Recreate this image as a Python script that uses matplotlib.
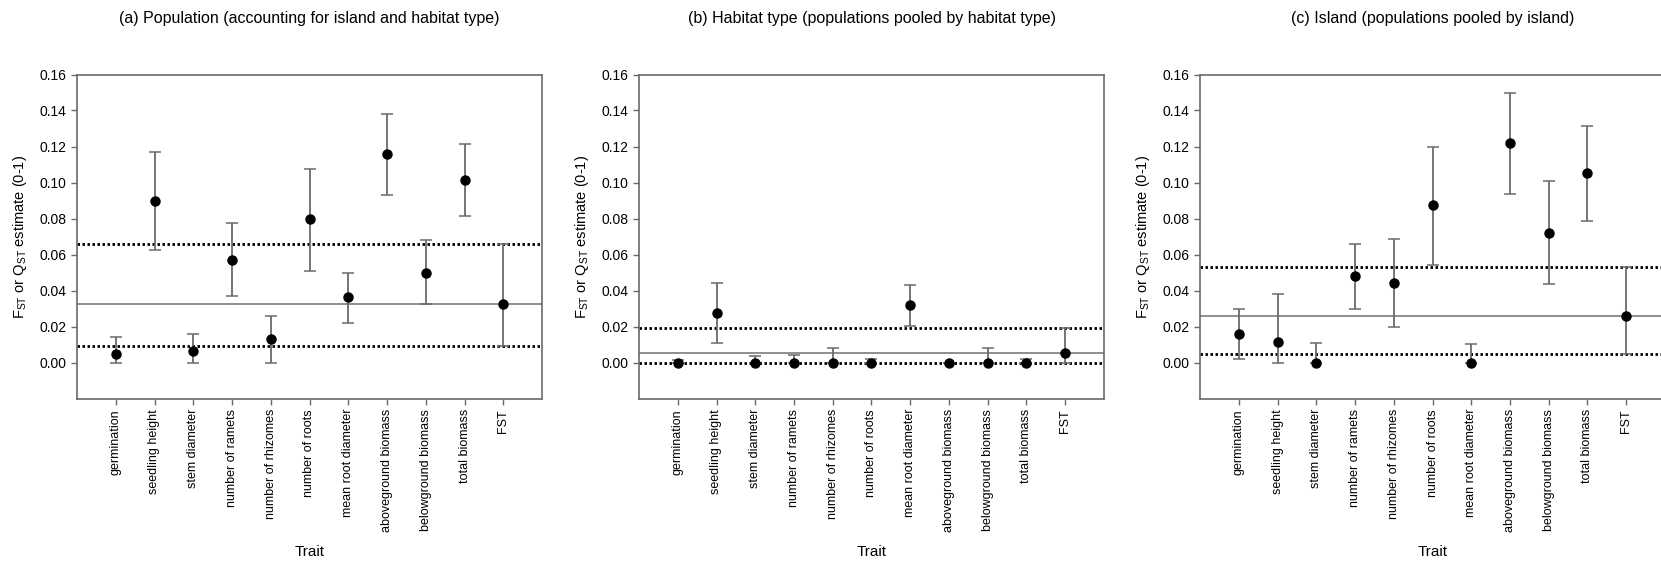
import numpy as np
import matplotlib.pyplot as plt

plt.rcParams['font.family'] = ['Liberation Sans', 'DejaVu Sans']
plt.rcParams['mathtext.fontset'] = 'custom'
plt.rcParams['mathtext.rm'] = 'Liberation Sans'
plt.rcParams['mathtext.it'] = 'Liberation Sans'

traits = ['germination', 'seedling height', 'stem diameter', 'number of ramets',
          'number of rhizomes', 'number of roots', 'mean root diameter',
          'aboveground biomass', 'belowground biomass', 'total biomass', 'FST']

titles = ['(a) Population (accounting for island and habitat type)',
          '(b) Habitat type (populations pooled by habitat type)',
          '(c) Island (populations pooled by island)']

# estimate, lower and upper CI (last entry = FST, used for reference lines)
est_a = [0.0047, 0.0900, 0.0065, 0.0570, 0.0128, 0.0795, 0.0362, 0.1160, 0.0500, 0.1015, 0.0325]
lo_a = [0.0000, 0.0627, 0.0000, 0.0372, 0.0000, 0.0510, 0.0218, 0.0932, 0.0325, 0.0815, 0.0090]
hi_a = [0.0143, 0.1168, 0.0160, 0.0773, 0.0258, 0.1077, 0.0497, 0.1382, 0.0683, 0.1215, 0.0660]

est_b = [0.0000, 0.0277, 0.0000, 0.0000, 0.0000, 0.0000, 0.0318, 0.0000, 0.0000, 0.0000, 0.0054]
lo_b = [0.0000, 0.0110, 0.0000, 0.0000, 0.0000, 0.0000, 0.0202, 0.0000, 0.0000, 0.0000, 0.0000]
hi_b = [0.0016, 0.0440, 0.0037, 0.0040, 0.0083, 0.0017, 0.0432, 0.0000, 0.0078, 0.0022, 0.0192]

est_c = [0.0158, 0.0114, 0.0000, 0.0480, 0.0441, 0.0873, 0.0000, 0.1220, 0.0720, 0.1052, 0.0260]
lo_c = [0.0017, 0.0000, 0.0000, 0.0296, 0.0196, 0.0544, 0.0000, 0.0937, 0.0434, 0.0787, 0.0046]
hi_c = [0.0295, 0.0382, 0.0106, 0.0659, 0.0685, 0.1198, 0.0105, 0.1497, 0.1008, 0.1312, 0.0530]

panels = [(est_a, lo_a, hi_a), (est_b, lo_b, hi_b), (est_c, lo_c, hi_c)]
lefts = [77, 639, 1200]

W, H = 1661, 565
fig = plt.figure(figsize=(W / 100, H / 100), dpi=100)

grey = '#6a6a6a'
x = np.arange(1, len(traits) + 1)
yt = np.arange(0, 0.161, 0.02)

for i, (est, lo, hi) in enumerate(panels):
    ax = fig.add_axes([lefts[i] / W, 1 - 398.5 / H, 465 / W, 324 / H])
    est = np.array(est)
    lo = np.array(lo)
    hi = np.array(hi)

    # reference lines from the FST estimate and its CI
    ax.axhline(est[-1], color='#707070', lw=1.1, zorder=1)
    for v in (lo[-1], hi[-1]):
        ax.axhline(v, color='black', lw=2.0, linestyle=(0, (0.9, 0.9)), zorder=2)

    ax.errorbar(x, est, yerr=[est - lo, hi - est], fmt='none', ecolor=grey,
                elinewidth=1.3, capsize=4, capthick=1.1, zorder=3)
    ax.plot(x, est, 'o', color='black', ms=6.5, zorder=4)

    ax.set_xlim(0, 12)
    ax.set_ylim(-0.02, 0.16)
    ax.set_yticks(yt)
    ax.set_yticklabels([f'{t:.2f}' for t in yt], fontsize=10)
    ax.set_xticks(x)
    ax.set_xticklabels(traits, rotation=90, fontsize=9)
    ax.tick_params(direction='out', length=4, width=1, color=grey, pad=3.5)
    for s in ax.spines.values():
        s.set_color(grey)
        s.set_linewidth(1.2)

    ax.set_ylabel(r'F$_{\mathrm{ST}}$ or Q$_{\mathrm{ST}}$ estimate (0-1)', fontsize=10.5)
    ax.yaxis.set_label_coords(-57 / 465, 0.5)
    ax.yaxis.label.set_va('center')
    ax.set_xlabel('Trait', fontsize=11)
    ax.xaxis.set_label_coords(0.5, (398.5 - 552) / 324)
    ax.xaxis.label.set_va('center')

    fig.text((lefts[i] + 232.5) / W, 1 - 18 / H, titles[i], fontsize=11.5,
             ha='center', va='center')

fig.savefig('out.png', dpi=100)
